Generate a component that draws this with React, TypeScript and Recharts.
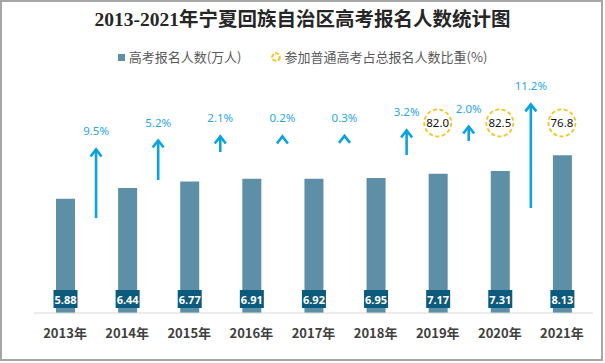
import React from 'react';
import { ComposedChart, Bar, Line, XAxis, YAxis, LabelList } from 'recharts';

// ---- data ----
const years = ['2013年', '2014年', '2015年', '2016年', '2017年', '2018年', '2019年', '2020年', '2021年'];
const applicants = [5.88, 6.44, 6.77, 6.91, 6.92, 6.95, 7.17, 7.31, 8.13]; // 万人
const growthRates: (number | null)[] = [null, 9.5, 5.2, 2.1, 0.2, 0.3, 3.2, 2.0, 11.2]; // %
// arrow start / end levels (in the bar axis units, 万人)
const arrowStart: (number | null)[] = [null, 4.89, 6.85, 8.29, 9.12, 9.15, 8.14, 8.86, 5.41];
const arrowEnd: (number | null)[] = [null, 8.5, 8.96, 9.17, 9.17, 9.2, 9.48, 9.68, 10.82];
const ratios: (number | null)[] = [null, null, null, null, null, null, 82.0, 82.5, 76.8]; // %
const BADGE_LEVEL = 9.79;

const data = years.map((year, i) => ({
  year,
  idx: i,
  count: applicants[i],
  growth: growthRates[i],
  arrow: arrowStart[i] != null ? [arrowStart[i], arrowEnd[i]] : null,
  ratio: ratios[i],
  badge: ratios[i] != null ? BADGE_LEVEL : null,
}));

const BAR = '#5D8FA6';
const BOX = '#0D5B7C';
const ARROW = '#0AA2E0';
const PCT = '#2AA7DF';
const GOLD = '#F4C41C';
const CJK = "'Noto Sans CJK SC', 'Noto Sans', sans-serif";

const ArrowShape = (props: any) => {
  const { x, y, width, height, payload } = props;
  if (!payload || payload.growth == null || x == null) return <g />;
  const cx = x + width / 2;
  const tip = y;
  const bottom = y + height;
  return (
    <g>
      {height > 3 && (
        <line x1={cx} y1={tip + 1} x2={cx} y2={bottom} stroke={ARROW} strokeWidth={2.6} />
      )}
      <polyline
        points={`${cx - 5.5},${tip + 8.5} ${cx},${tip + 1.5} ${cx + 5.5},${tip + 8.5}`}
        fill="none"
        stroke={ARROW}
        strokeWidth={2.6}
      />
      <text
        x={cx}
        y={tip - 17}
        textAnchor="middle"
        dominantBaseline="central"
        fill={PCT}
        fontSize={11.5}
        fontFamily="'Noto Sans', sans-serif"
      >
        {payload.growth.toFixed(1)}%
      </text>
    </g>
  );
};

const ValueBox = (props: any) => {
  const { x, y, width, height, value } = props;
  const cx = x + width / 2;
  const bottom = y + height;
  return (
    <g>
      <rect x={cx - 12} y={bottom - 23} width={24} height={18} fill={BOX} />
      <text
        x={cx}
        y={bottom - 14}
        textAnchor="middle"
        dominantBaseline="central"
        fill="#fff"
        fontSize={11}
        fontWeight="bold"
        fontFamily="'Noto Sans', sans-serif"
      >
        {Number(value).toFixed(2)}
      </text>
    </g>
  );
};

const Badge = (props: any) => {
  const { cx, cy, payload, index } = props;
  if (!payload || payload.ratio == null || cy == null) return <g key={`b${index}`} />;
  return (
    <g key={`b${index}`}>
      <circle cx={cx} cy={cy} r={13.5} fill="#fff" stroke={GOLD} strokeWidth={1.8} strokeDasharray="4 2.5" />
      <text
        x={cx}
        y={cy}
        textAnchor="middle"
        dominantBaseline="central"
        fill="#111"
        fontSize={11.5}
        fontFamily="'Noto Sans', sans-serif"
      >
        {payload.ratio.toFixed(1)}
      </text>
    </g>
  );
};

const YearTick = (props: any) => {
  const { x, y, payload } = props;
  return (
    <text
      x={x}
      y={y + 11}
      textAnchor="middle"
      dominantBaseline="central"
      fill="#404040"
      fontSize={13}
      fontWeight={600}
      fontFamily={CJK}
    >
      {payload.value}
    </text>
  );
};

export default function App() {
  return (
    <div style={{ position: 'absolute', left: 0, top: 0, width: 605, height: 363, background: '#fff' }}>
      <div
        style={{
          position: 'absolute',
          left: 0,
          top: 0,
          width: 603,
          height: 361,
          border: '2px solid #A6A6A6',
          boxSizing: 'border-box',
        }}
      />
      <ComposedChart
        width={605}
        height={363}
        data={data}
        margin={{ top: 80, right: 12, left: 34, bottom: 20 }}
        style={{ position: 'absolute', left: 0, top: 0 }}
      >
        <XAxis
          dataKey="year"
          height={30}
          axisLine={{ stroke: '#D9D9D9' }}
          tickLine={false}
          tick={<YearTick />}
          interval={0}
        />
        <XAxis xAxisId="arrow" type="number" dataKey="idx" domain={[0, 9]} hide />
        <YAxis domain={[0, 12]} hide />
        <Bar dataKey="count" fill={BAR} barSize={19} isAnimationActive={false}>
          <LabelList dataKey="count" content={<ValueBox />} />
        </Bar>
        <Bar
          xAxisId="arrow"
          dataKey="arrow"
          barSize={12}
          shape={<ArrowShape />}
          isAnimationActive={false}
        />
        <Line
          dataKey="badge"
          stroke="none"
          dot={<Badge />}
          activeDot={false}
          isAnimationActive={false}
        />
      </ComposedChart>
      <div
        style={{
          position: 'absolute',
          left: 0,
          top: 8,
          width: 605,
          textAlign: 'center',
          fontSize: 19.5,
          lineHeight: '24px',
          fontWeight: 'bold',
          color: '#262626',
          fontFamily: "'Liberation Serif', 'DejaVu Serif', 'Noto Sans CJK SC', serif",
        }}
      >
        2013-2021年宁夏回族自治区高考报名人数统计图
      </div>
      <div
        style={{
          position: 'absolute',
          left: 0,
          top: 48,
          width: 605,
          height: 18,
          display: 'flex',
          justifyContent: 'center',
          alignItems: 'center',
          fontSize: 13,
          color: '#595959',
          fontFamily: CJK,
          lineHeight: '18px',
        }}
      >
        <span style={{ display: 'inline-block', width: 7, height: 7, background: BAR, marginRight: 4 }} />
        <span>高考报名人数(万人)</span>
        <svg width={12} height={12} style={{ marginLeft: 28, marginRight: 3 }}>
          <circle cx={6} cy={6} r={3.8} fill="none" stroke={GOLD} strokeWidth={2} strokeDasharray="4 1.5" />
        </svg>
        <span>参加普通高考占总报名人数比重(%)</span>
      </div>
    </div>
  );
}
